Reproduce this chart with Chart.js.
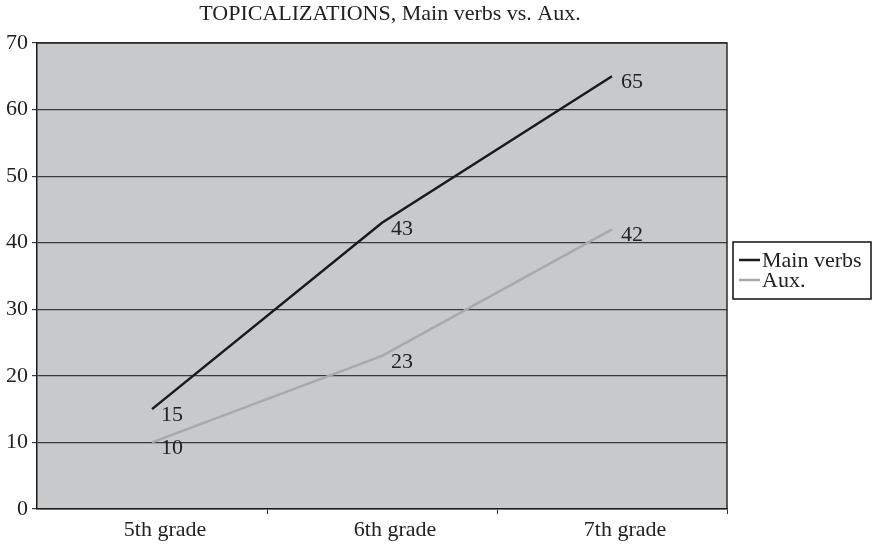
<!DOCTYPE html>
<html>
<head>
<meta charset="utf-8">
<script src="https://cdn.jsdelivr.net/npm/chart.js@4.4.1/dist/chart.umd.min.js"></script>
<style>
  html, body { margin: 0; padding: 0; background: #ffffff; }
  #wrap { width: 872px; height: 545px; }
</style>
</head>
<body>
<div id="wrap"><canvas id="c" width="872" height="545"></canvas></div>
<script>
const categories = ['5th grade', '6th grade', '7th grade'];
const mainVerbs = [15, 43, 65];
const auxVerbs = [10, 23, 42];
const yTicks = [0, 10, 20, 30, 40, 50, 60, 70];
const titleText = 'TOPICALIZATIONS, Main verbs vs. Aux.';

const FONT = '"Liberation Serif", "Times New Roman", serif';
const FONT_SIZE = 22;

// Grey plot panel with a dark frame
const panelPlugin = {
  id: 'panel',
  beforeDraw(chart) {
    const { ctx, chartArea: a } = chart;
    ctx.save();
    ctx.fillStyle = '#c8c9cb';
    ctx.fillRect(a.left, a.top, a.right - a.left, a.bottom - a.top);
    ctx.restore();
  },
  afterDatasetsDraw(chart) {
    const { ctx, chartArea: a } = chart;
    ctx.save();
    ctx.strokeStyle = '#2a2a2a';
    ctx.lineWidth = 1.5;
    ctx.beginPath();
    ctx.moveTo(a.left, a.top);
    ctx.lineTo(a.right, a.top);
    ctx.lineTo(a.right, a.bottom);
    ctx.stroke();
    ctx.restore();
  }
};

// Value labels placed just right of and below each point
const valueLabelPlugin = {
  id: 'valueLabels',
  afterDatasetsDraw(chart) {
    const { ctx } = chart;
    ctx.save();
    ctx.font = FONT_SIZE + 'px ' + FONT;
    ctx.fillStyle = '#222222';
    ctx.textAlign = 'left';
    ctx.textBaseline = 'middle';
    chart.data.datasets.forEach((ds, i) => {
      const meta = chart.getDatasetMeta(i);
      meta.data.forEach((pt, j) => {
        ctx.fillText(String(ds.data[j]), pt.x + 9, pt.y + 6);
      });
    });
    ctx.restore();
  }
};

// Title and boxed legend on the right
const decorPlugin = {
  id: 'decor',
  afterDraw(chart) {
    const { ctx, chartArea: a } = chart;
    ctx.save();
    ctx.font = FONT_SIZE + 'px ' + FONT;
    ctx.fillStyle = '#222222';
    ctx.textAlign = 'center';
    ctx.textBaseline = 'middle';
    ctx.fillText(titleText, (a.left + a.right) / 2 + 8, 14);

    const bx = 733, by = 242, bw = 138, bh = 57;
    ctx.strokeStyle = '#111111';
    ctx.lineWidth = 1.5;
    ctx.strokeRect(bx, by, bw, bh);
    ctx.textAlign = 'left';
    chart.data.datasets.forEach((ds, i) => {
      const y = 260 + i * 20;
      ctx.strokeStyle = ds.borderColor;
      ctx.lineWidth = 2.5;
      ctx.beginPath();
      ctx.moveTo(739, y);
      ctx.lineTo(760, y);
      ctx.stroke();
      ctx.fillStyle = '#222222';
      ctx.fillText(ds.label, 762, y + 1);
    });
    ctx.restore();
  }
};

new Chart(document.getElementById('c'), {
  type: 'line',
  data: {
    labels: categories,
    datasets: [
      {
        label: 'Main verbs',
        data: mainVerbs,
        borderColor: '#1a1a1a',
        borderWidth: 2.5,
        pointRadius: 0,
        tension: 0
      },
      {
        label: 'Aux.',
        data: auxVerbs,
        borderColor: '#a9a9a9',
        borderWidth: 2.5,
        pointRadius: 0,
        tension: 0
      }
    ]
  },
  options: {
    responsive: false,
    animation: false,
    devicePixelRatio: 1,
    layout: { padding: { top: 43, right: 145, left: 0, bottom: 0 } },
    plugins: {
      legend: { display: false },
      title: { display: false },
      tooltip: { enabled: false }
    },
    scales: {
      x: {
        type: 'category',
        offset: true,
        grid: {
          offset: true,
          drawOnChartArea: false,
          drawTicks: true,
          tickLength: 5,
          color: (c) => (c.index === 0 || c.index === categories.length) ? 'rgba(0,0,0,0)' : '#333333'
        },
        border: { color: '#1a1a1a', width: 1.5 },
        ticks: {
          color: '#222222',
          font: { family: FONT, size: FONT_SIZE },
          padding: 3,
          labelOffset: 13,
          maxRotation: 0
        },
        afterFit(scale) { scale.height = 36; }
      },
      y: {
        min: 0,
        max: 70,
        afterBuildTicks(scale) {
          scale.ticks = yTicks.map(v => ({ value: v }));
        },
        grid: {
          color: '#3a3a3a',
          lineWidth: 1.2,
          drawTicks: true,
          tickLength: 5
        },
        border: { color: '#1a1a1a', width: 1.5 },
        ticks: {
          color: '#222222',
          font: { family: FONT, size: FONT_SIZE },
          padding: 4
        },
        afterFit(scale) { scale.width = 37; }
      }
    }
  },
  plugins: [panelPlugin, valueLabelPlugin, decorPlugin]
});
</script>
</body>
</html>
